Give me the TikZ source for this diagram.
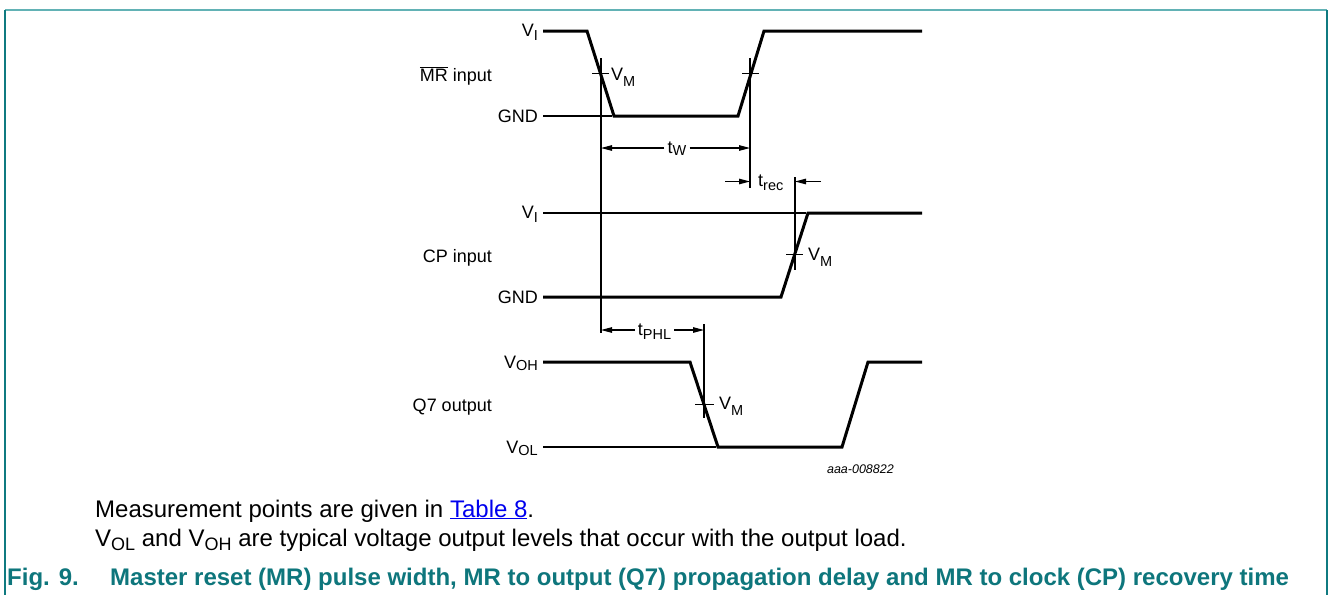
\documentclass[tikz,border=0pt]{standalone}
\usepackage{fontspec}
\setmainfont{Liberation Sans}
\usetikzlibrary{arrows.meta}
\definecolor{tealdark}{HTML}{0F7A80}
\definecolor{teallight}{HTML}{62B2B5}
\definecolor{captionteal}{HTML}{0E767C}
\definecolor{linkblue}{HTML}{0000EE}
\newcommand{\sbs}[2][4pt]{\raisebox{-#1}{\fontsize{14.5}{14.5}\selectfont #2}}
\newcommand{\bsbs}[1]{\raisebox{-4.5pt}{\fontsize{18}{18}\selectfont #1}}
\begin{document}
\begin{tikzpicture}[x=1pt,y=-1pt,
  wave/.style={line width=3pt, line join=miter},
  refl/.style={line width=1.1pt},
  dimarrow/.style={line width=1.1pt, -{Triangle[length=11pt,width=5.5pt]}},
  lbl/.style={font=\fontsize{18}{18}\selectfont, inner sep=0pt},
  dimlbl/.style={font=\fontsize{18}{18}\selectfont, inner sep=3pt},
  bodytxt/.style={font=\fontsize{24}{24}\selectfont, inner sep=0pt, anchor=base west},
  captxt/.style={font=\fontsize{24}{24}\selectfont\bfseries, text=captionteal, inner sep=0pt, anchor=base west},
]
\useasboundingbox (0,0) rectangle (1330,595);
\fill[white] (0,0) rectangle (1330,595);
% frame
\coordinate (fTL) at (5,10);
\coordinate (fTR) at (1327,10);
\coordinate (fBL) at (5,595);
\coordinate (fBR) at (1327,595);
\draw[teallight, line width=2pt] (fTL) -- (fTR);
\draw[tealdark, line width=1.6pt] (fTL) -- (fBL);
\draw[tealdark, line width=1.6pt] (fTR) -- (fBR);

% ---------- MR input ----------
\coordinate (m1) at (543,31);
\coordinate (m2) at (587,31);
\coordinate (m3) at (614,116);
\coordinate (m4) at (738,116);
\coordinate (m5) at (764,31);
\coordinate (m6) at (922,31);
\draw[wave] (m1) -- (m2) -- (m3) -- (m4) -- (m5) -- (m6);
\coordinate (mg0) at (543,116);
\coordinate (mg1) at (612,116);
\draw[refl] (mg0) -- (mg1);

% ---------- CP input ----------
\coordinate (c1) at (543,297);
\coordinate (c2) at (781,297);
\coordinate (c3) at (808,213);
\coordinate (c4) at (922,213);
\draw[wave] (c1) -- (c2) -- (c3) -- (c4);
\coordinate (cv0) at (543,213);
\coordinate (cv1) at (806,213);
\draw[refl] (cv0) -- (cv1);

% ---------- Q7 output ----------
\coordinate (q1) at (543,362);
\coordinate (q2) at (690,362);
\coordinate (q3) at (718,447);
\coordinate (q4) at (842,447);
\coordinate (q5) at (868,362);
\coordinate (q6) at (922,362);
\draw[wave] (q1) -- (q2) -- (q3) -- (q4) -- (q5) -- (q6);
\coordinate (qo0) at (543,447);
\coordinate (qo1) at (716,447);
\draw[refl] (qo0) -- (qo1);

% ---------- vertical reference lines ----------
\coordinate (v1a) at (601,58);  \coordinate (v1b) at (601,333);
\coordinate (v2a) at (750,58);  \coordinate (v2b) at (750,188);
\coordinate (v3a) at (795,177); \coordinate (v3b) at (795,270);
\coordinate (v4a) at (704,324); \coordinate (v4b) at (704,418);
\draw[refl] (v1a) -- (v1b);
\draw[refl] (v2a) -- (v2b);
\draw[refl] (v3a) -- (v3b);
\draw[refl] (v4a) -- (v4b);

% ---------- V_M ticks ----------
\coordinate (k1a) at (592,73.5); \coordinate (k1b) at (609,73.5);
\coordinate (k2a) at (742,73.5); \coordinate (k2b) at (759,73.5);
\coordinate (k3a) at (786,254.5); \coordinate (k3b) at (803,254.5);
\coordinate (k4a) at (695,404.5); \coordinate (k4b) at (714,404.5);
\draw[refl] (k1a) -- (k1b);
\draw[refl] (k2a) -- (k2b);
\draw[refl] (k3a) -- (k3b);
\draw[refl] (k4a) -- (k4b);

% ---------- level labels ----------
\node[lbl, anchor=base east] (lVI1) at (538,36.5) {V\sbs{I}};
\node[lbl, anchor=base east] (lMR) at (492,81) {$\overline{\hbox{MR}}$ input};
\node[lbl, anchor=base east] (lGND1) at (538,122) {GND};
\node[lbl, anchor=base east] (lVI2) at (538,218.5) {V\sbs{I}};
\node[lbl, anchor=base east] (lCP) at (492,262) {CP input};
\node[lbl, anchor=base east] (lGND2) at (538,303) {GND};
\node[lbl, anchor=base east] (lVOH) at (538,368) {V\sbs[2pt]{OH}};
\node[lbl, anchor=base east] (lQ7) at (492,411) {Q7 output};
\node[lbl, anchor=base east] (lVOL) at (538,453) {V\sbs[2pt]{OL}};

\node[lbl, anchor=base west] (vm1) at (611,80) {V\sbs[6pt]{M}};
\node[lbl, anchor=base west] (vm3) at (808,260) {V\sbs[6pt]{M}};
\node[lbl, anchor=base west] (vm4) at (719,409) {V\sbs[6pt]{M}};

% ---------- t_W ----------
\coordinate (twL) at (601,148);
\coordinate (twR) at (750,148);
\node[dimlbl, anchor=base] (tW) at (677,153) {t\sbs[2pt]{W}};
\draw[dimarrow] (tW.west |- twL) -- (twL);
\draw[dimarrow] (tW.east |- twR) -- (twR);

% ---------- t_rec ----------
\coordinate (trA) at (725,181.5);
\coordinate (trB) at (750,181.5);
\coordinate (trC) at (821,181.5);
\coordinate (trD) at (795,181.5);
\node[lbl, anchor=base west] (trec) at (758,186) {t\sbs{rec}};
\draw[dimarrow] (trA) -- (trB);
\draw[dimarrow] (trC) -- (trD);

% ---------- t_PHL ----------
\coordinate (tpL) at (601,330);
\coordinate (tpR) at (704,330);
\node[dimlbl, anchor=base] (tPHL) at (654.5,335) {t\sbs{PHL}};
\draw[dimarrow] (tPHL.west |- tpL) -- (tpL);
\draw[dimarrow] (tPHL.east |- tpR) -- (tpR);

% ---------- figure id ----------
\node[font=\fontsize{12.5}{12.5}\selectfont\itshape, inner sep=0pt, anchor=base east] (fid) at (894,473) {aaa-008822};

% ---------- notes and caption ----------
\node[bodytxt] (n1) at (95,517) {Measurement points are given in \textcolor{linkblue}{\underline{Table 8}}.};
\node[bodytxt] (n2) at (95,546) {V\bsbs{OL} and V\bsbs{OH} are typical voltage output levels that occur with the output load.};
\node[captxt] (cap1) at (7,585) {Fig. 9.};
\node[captxt] (cap2) at (110,585) {Master reset (MR) pulse width, MR to output (Q7) propagation delay and MR to clock (CP) recovery time};
\end{tikzpicture}
\end{document}
